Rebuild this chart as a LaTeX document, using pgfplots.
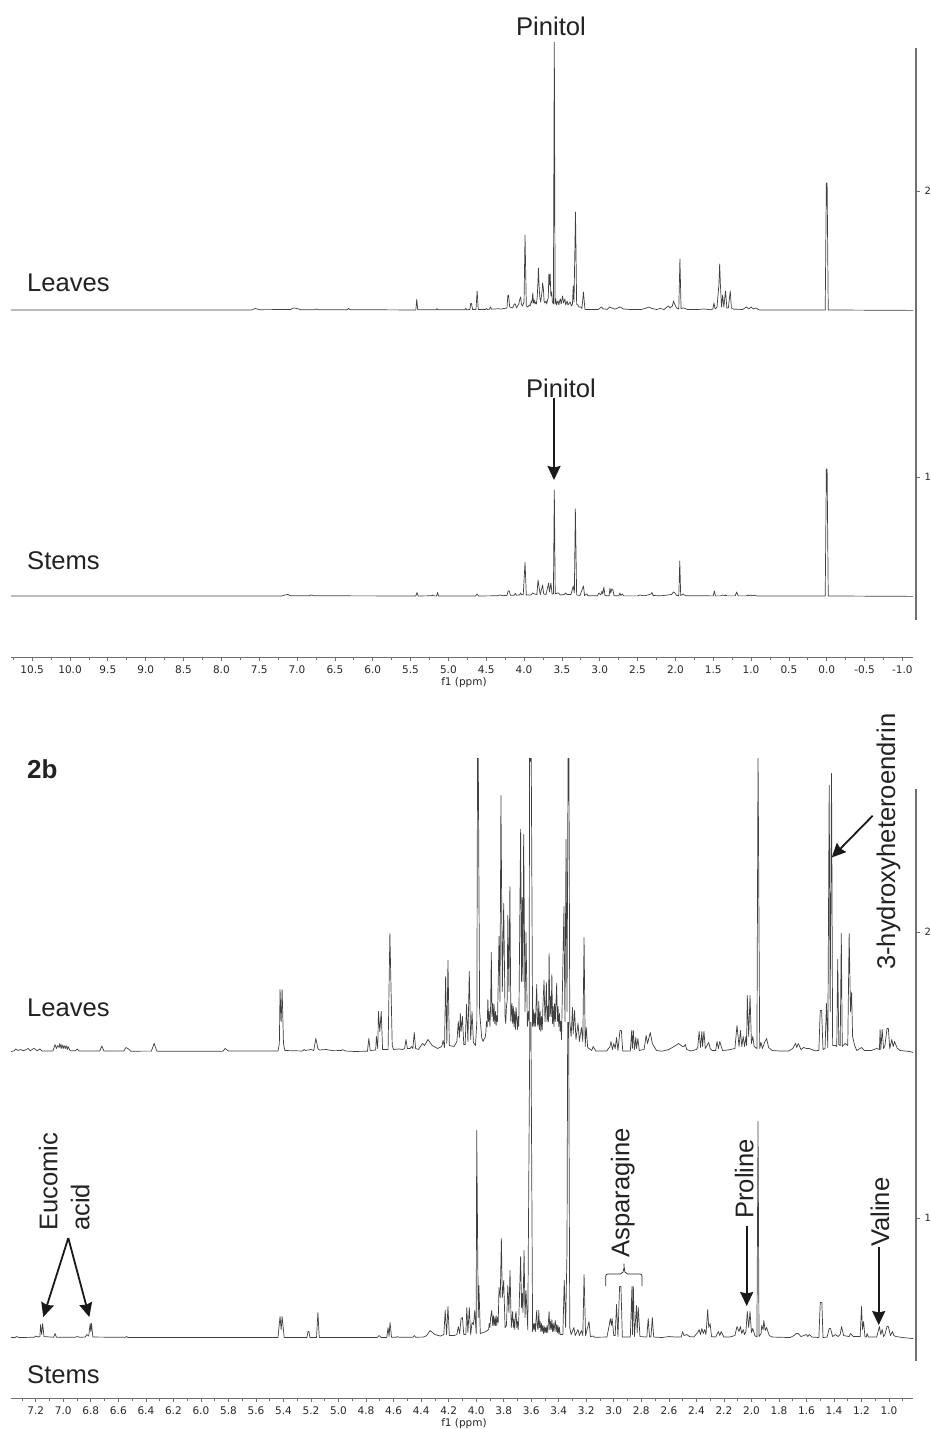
\documentclass[border=0pt]{standalone}
\usepackage{fontspec}
\setmainfont{Liberation Sans}
\newfontfamily\dejavu{DejaVu Sans}
\usepackage{pgfplots}
\pgfplotsset{compat=1.18}
\usetikzlibrary{arrows.meta}
\definecolor{trace}{HTML}{404040}
\definecolor{axisgr}{HTML}{707070}
\definecolor{ink}{HTML}{222222}
\pgfplotsset{
  spec/.style={
    scale only axis, anchor=south west, clip=true,
    x dir=reverse, axis y line=none, axis x line*=bottom,
    x axis line style={-,draw=axisgr,line width=0.8pt},
    tick align=outside, major tick length=4pt, minor tick length=3pt,
    every tick/.style={draw=axisgr,line width=0.7pt},
    every minor tick/.style={draw=axisgr,line width=0.7pt},
    /pgf/number format/assume math mode=true,
    /pgf/number format/fixed, /pgf/number format/fixed zerofill, /pgf/number format/precision=1,
    xticklabel style={font=\dejavu\fontsize{10.5}{12}\selectfont,text=black!85,yshift=-1pt},
    xlabel={f1 (ppm)},
    xlabel style={at={(axis description cs:0.5,0)},anchor=center,yshift=-26pt,xshift=2pt,font=\dejavu\fontsize{10.5}{12}\selectfont,text=black!85},
  },
  trc/.style={color=trace,line width=0.7pt,line join=round,no markers},
  rightax/.style={
    scale only axis, anchor=south west, width=10pt, height=572pt,
    ymin=0.5, ymax=2.5, xmin=0, xmax=1,
    axis x line=none, axis y line*=right,
    y axis line style={-,draw=axisgr,line width=1.2pt},
    ytick={1,2}, tick align=outside, major tick length=4pt,
    every tick/.style={draw=axisgr,line width=0.7pt},
    /pgf/number format/assume math mode=true,
    yticklabel style={font=\dejavu\fontsize{10}{12}\selectfont,text=black!85,xshift=1pt},
  },
}
\tikzset{
  lab/.style={font=\fontsize{25.6}{28}\selectfont,text=ink,inner sep=0pt},
  arr/.style={-{Stealth[length=14pt,width=13pt,inset=1.5pt]},line width=1.8pt,draw=black!90},
}
\begin{document}
\begin{tikzpicture}[x=1pt,y=1pt]
\useasboundingbox (0,0) rectangle (930,-1429);

% ------------ upper panel
\begin{axis}[spec, at={(11pt,-657pt)}, width=902pt, height=615pt,
  xmin=-1.14, xmax=10.78, ymin=0.3706, ymax=2.521,
  xtick={-1,-0.5,0,0.5,1,1.5,2,2.5,3,3.5,4,4.5,5,5.5,6,6.5,7,7.5,8,8.5,9,9.5,10,10.5},
  minor xtick={-0.75,-0.25,0.25,0.75,1.25,1.75,2.25,2.75,3.25,3.75,4.25,4.75,5.25,5.75,6.25,6.75,7.25,7.75,8.25,8.75,9.25,9.75,10.25,10.75}]
% stems
\addplot[trc, y filter/.expression={y/286+0.584}] coordinates {
(10.78,0)(7.2,0)(7.16,1)(7.12,1.5)(7.09,0.2)(6.84,0.2)(6.81,1)(6.78,0.2)(5.43,0)(5.415,3.5)(5.40,0)(5.22,0.2)(5.21,1)(5.20,0.2)(5.155,0)(5.142,3.5)(5.13,0)
(4.64,0)(4.62,2)(4.60,0)(4.35,0.2)(4.32,1)(4.28,0.3)(4.225,0.6)(4.21,5)(4.195,5)(4.18,0.6)(4.13,0.8)(4.115,2.5)(4.10,0.8)(4.06,1)(4.045,3)(4.03,1)(4.01,1.5)(3.987,33.7)(3.97,1)
(3.91,1)(3.885,3)(3.865,2)(3.83,1.5)(3.815,16)(3.80,8)(3.785,1.5)(3.755,11)(3.74,2)(3.71,1.5)(3.675,13)(3.665,4)(3.645,13)(3.63,2)(3.612,2)(3.60,106)(3.588,2)(3.56,3)(3.545,3)(3.52,1)(3.47,1.5)(3.45,3)(3.43,1.5)(3.38,1.5)(3.35,10)(3.335,3)(3.322,87)(3.305,1)(3.26,0.5)(3.215,10)(3.20,0.5)(3.17,2)(3.155,0.2)
(3.03,0.2)(3.01,3)(2.985,1)(2.97,5)(2.96,2)(2.945,8.7)(2.93,0.2)(2.875,0.2)(2.865,8)(2.855,3)(2.84,7)(2.825,6)(2.81,0.2)(2.745,0.2)(2.735,3)(2.72,0.5)(2.70,2)(2.685,0.1)(2.5,0.1)(2.47,1)(2.42,0.2)(2.36,1)(2.32,2)(2.31,3.5)(2.295,0.5)(2.2,0.1)(2.1,1)(2.05,1.5)(2.025,4)(2.005,3)(1.985,0.5)(1.955,0.4)(1.942,35)(1.93,0.5)(1.895,2)(1.87,0.3)(1.5,0.1)(1.485,5)(1.47,0.1)(1.40,0.1)(1.37,1)(1.34,0.2)(1.335,1.2)(1.32,0.1)(1.21,0.1)(1.19,4)(1.17,0.1)(1.06,0.1)(1.05,1)(1.03,0.2)(1.01,1)(0.99,0.2)(0.96,0.8)(0.92,0)
(0.02,0)(0.005,127)(-0.005,127)(-0.02,0)(-1.14,-0.4)
};
% leaves
\addplot[trc, y filter/.expression={y/286+1.584}] coordinates {
(10.78,0)(7.6,0)(7.55,1.5)(7.5,0.3)(7.08,0.5)(7.05,2)(7.0,1.5)(6.95,0.3)(6.76,0.3)(6.74,1)(6.72,0.3)(6.34,0.3)(6.32,1.5)(6.30,0.3)
(5.43,0)(5.418,10.7)(5.405,0.2)(5.16,0.2)(5.15,1.5)(5.14,0.2)(4.78,0.2)(4.77,1.5)(4.755,0.2)(4.715,0.5)(4.705,6.7)(4.695,6.5)(4.68,0.5)(4.635,0.5)(4.62,19)(4.605,0.5)(4.51,0.5)(4.50,1.5)(4.48,0.5)(4.455,0.8)(4.445,3)(4.43,0.8)(4.35,1.2)(4.3,1)(4.225,2)(4.215,14)(4.205,15)(4.19,3)(4.15,2)(4.13,6)(4.115,6)(4.10,2)(4.07,6)(4.055,11)(4.045,13)(4.035,6)(4.02,4)(4.0,8)(3.987,75)(3.97,4)
(3.95,3)(3.93,5)(3.92,4)(3.905,9)(3.895,7)(3.885,17)(3.875,7)(3.865,10)(3.855,6)(3.845,8)(3.835,6)(3.825,14)(3.815,30)(3.81,42)(3.80,22)(3.79,12)(3.78,8)(3.77,14)(3.76,20)(3.755,27)(3.745,22)(3.735,9)(3.725,7)(3.71,9)(3.70,6)(3.69,10)(3.68,12)(3.672,36)(3.665,25)(3.655,36)(3.645,14)(3.635,18)(3.625,8)(3.612,6)(3.60,272)(3.59,6)(3.58,11)(3.57,5)(3.56,8)(3.55,9)(3.54,5)(3.53,9)(3.52,11)(3.51,6)(3.50,10)(3.49,14)(3.48,7)(3.47,9)(3.46,11)(3.45,5)(3.44,7)(3.43,9)(3.42,5)(3.40,7)(3.39,8)(3.375,4)(3.36,6)(3.35,24)(3.34,8)(3.32,98)(3.305,6)(3.29,5)(3.275,3)(3.25,3)(3.235,1.5)(3.215,18)(3.195,0.5)
(3.02,0.5)(2.995,2)(2.975,3)(2.955,1)(2.93,1)(2.90,0.5)(2.87,3)(2.84,2)(2.80,0.8)(2.76,2)(2.73,3)(2.69,1)(2.6,0.5)(2.45,0.5)(2.38,2)(2.35,3)(2.31,1.5)(2.25,0.5)(2.2,1.5)(2.15,0.5)(2.11,3)(2.09,4)(2.07,2)(2.04,4)(2.025,9)(2.01,6)(1.985,2)(1.955,1)(1.94,51)(1.925,1.5)(1.89,2)(1.84,0.5)(1.7,0.5)(1.62,1)(1.53,0.2)(1.505,1)(1.49,7)(1.475,1)(1.45,3)(1.425,25)(1.415,46)(1.405,25)(1.39,3)(1.375,15)(1.36,3)(1.337,19)(1.32,2)(1.30,2)(1.275,19)(1.26,2)(1.23,0.8)(1.11,0.5)(1.06,3)(1.03,1)(1.0,3)(0.97,1)(0.94,2)(0.89,0)
(0.02,0)(0.005,127)(-0.005,127)(-0.02,0)(-1.14,-0.4)
};
\end{axis}
\begin{axis}[rightax, at={(906pt,-620pt)}]
\end{axis}

% ------------ lower panel
\begin{axis}[spec, at={(11pt,-1398pt)}, width=902pt, height=640pt,
  xmin=0.826, xmax=7.38, ymin=0.3706, ymax=2.608,
  xtick={1,1.2,1.4,1.6,1.8,2,2.2,2.4,2.6,2.8,3,3.2,3.4,3.6,3.8,4,4.2,4.4,4.6,4.8,5,5.2,5.4,5.6,5.8,6,6.2,6.4,6.6,6.8,7,7.2},
  minor xtick={0.9,1.1,1.3,1.5,1.7,1.9,2.1,2.3,2.5,2.7,2.9,3.1,3.3,3.5,3.7,3.9,4.1,4.3,4.5,4.7,4.9,5.1,5.3,5.5,5.7,5.9,6.1,6.3,6.5,6.7,6.9,7.1,7.3}]
% stems
\addplot[trc, y filter/.expression={y/286+0.582}] coordinates {
(7.38,0)(7.35,0)(7.34,1)(7.32,0)(7.21,0.3)(7.2,1.5)(7.18,0.5)(7.17,1)(7.165,13)(7.157,3)(7.15,14)(7.14,1)(7.07,0.3)(7.06,4)(7.05,0.3)(6.91,0.3)(6.9,1)(6.88,0.3)(6.84,0.5)(6.83,3)(6.815,1.5)(6.805,14)(6.8,6)(6.795,14)(6.785,0.5)(6.55,0.2)(6.54,1)(6.53,0.1)(5.44,0)(5.425,21)(5.417,8)(5.41,21)(5.395,0)(5.23,0)(5.222,6)(5.215,6)(5.208,0)(5.16,0)(5.15,25)(5.14,0)(4.72,0)(4.705,2)(4.69,0)(4.65,0)(4.64,10)(4.633,1)(4.626,15)(4.615,0.3)(4.58,0.2)(4.575,1)(4.56,0.3)(4.46,0.3)(4.45,2)(4.44,0.3)(4.38,0.5)(4.36,2)(4.335,7)(4.30,3)(4.26,1.5)(4.235,3)(4.225,27)(4.215,3)(4.205,31)(4.195,2)(4.16,2)(4.14,3)(4.13,11)(4.12,4)(4.11,19)(4.10,20)(4.09,3)(4.075,3)(4.068,30)(4.06,5)(4.05,30)(4.04,3)(4.03,15)(4.02,13)(4.01,27)(4.0,4)(3.996,207)(3.985,20)(3.98,52)(3.97,4)(3.95,5)(3.93,6)(3.91,8)(3.905,14)(3.90,10)(3.895,20)(3.887,27)(3.88,12)(3.875,22)(3.87,12)(3.865,20)(3.86,12)(3.855,22)(3.85,12)(3.845,20)(3.84,15)(3.834,50)(3.825,40)(3.817,99)(3.81,40)(3.80,57)(3.79,10)(3.78,12)(3.77,52)(3.762,25)(3.754,67)(3.745,10)(3.74,18)(3.735,26)(3.73,10)(3.725,18)(3.72,8)(3.715,22)(3.71,26)(3.705,10)(3.70,16)(3.695,8)(3.69,20)(3.677,81)(3.67,30)(3.665,44)(3.66,25)(3.652,87)(3.645,20)(3.638,47)(3.625,8)(3.61,315)(3.606,315)(3.602,315)(3.59,6)(3.585,14)(3.58,8)(3.575,14)(3.57,6)(3.565,18)(3.56,27)(3.555,10)(3.55,8)(3.545,27)(3.54,10)(3.535,16)(3.53,6)(3.525,14)(3.52,6)(3.515,12)(3.51,4)(3.505,11)(3.50,5)(3.495,10)(3.49,5)(3.485,12)(3.48,5)(3.475,16)(3.47,26)(3.465,8)(3.46,16)(3.455,8)(3.45,18)(3.445,6)(3.44,14)(3.435,6)(3.43,12)(3.425,17)(3.42,6)(3.415,13)(3.41,5)(3.405,12)(3.40,4)(3.395,10)(3.39,3)(3.37,3)(3.36,57)(3.35,10)(3.34,87)(3.335,315)(3.328,315)(3.32,10)(3.31,3)(3.29,10)(3.28,2)(3.26,8)(3.25,2)(3.235,7)(3.225,2)(3.216,63)(3.205,2)(3.18,16)(3.17,1)(3.15,1.5)(3.14,0.3)(3.05,0.5)(3.035,11)(3.025,19)(3.018,12)(3.012,19)(3.0,2)(2.99,2)(2.98,33)(2.97,1)(2.958,51)(2.948,51)(2.938,0.5)(2.88,0.5)(2.868,51)(2.864,3)(2.858,51)(2.85,1)(2.835,32)(2.83,5)(2.822,30)(2.81,1)(2.76,0.5)(2.75,19)(2.74,0.5)(2.73,0.5)(2.72,20)(2.71,0.5)(2.65,0)(2.6,1)(2.55,0.5)(2.51,0.5)(2.5,6)(2.49,2)(2.47,3)(2.45,1)(2.42,0.5)(2.39,5)(2.38,8)(2.37,3)(2.36,9)(2.35,4)(2.34,8)(2.33,3)(2.318,28)(2.31,10)(2.30,14)(2.29,1)(2.26,0.5)(2.24,6)(2.23,2)(2.22,6)(2.2,0.5)(2.16,0.5)(2.12,2)(2.105,11)(2.09,6)(2.08,11)(2.07,4)(2.06,8)(2.05,3)(2.04,6)(2.03,26)(2.02,10)(2.01,26)(2.0,5)(1.99,9)(1.975,2)(1.96,0.5)(1.952,216)(1.945,1)(1.93,4)(1.925,12)(1.915,8)(1.91,17)(1.90,7)(1.89,10)(1.87,2)(1.85,0.5)(1.72,0)(1.69,2)(1.675,4)(1.66,4)(1.64,1)(1.6,3)(1.59,1)(1.58,3)(1.56,0.5)(1.51,0)(1.50,35)(1.488,35)(1.48,0)(1.45,0.5)(1.435,9)(1.425,9)(1.41,1)(1.39,3)(1.37,1)(1.355,3)(1.345,11)(1.33,2)(1.29,1)(1.28,4)(1.26,1)(1.21,1)(1.2,31)(1.193,8)(1.185,16)(1.175,0.5)(1.165,0.5)(1.16,4)(1.15,0.5)(1.09,0.5)(1.07,11)(1.06,3)(1.05,8)(1.04,1)(1.03,3)(1.015,11)(1.005,11)(0.99,2)(0.975,6)(0.965,2)(0.95,1)(0.9,0)(0.826,-1)
};
% leaves
\addplot[trc, y filter/.expression={y/286+1.582}] coordinates {
(7.38,0)(7.36,0.5)(7.345,2.5)(7.33,1)(7.31,2)(7.29,0.7)(7.255,3)(7.24,0.7)(7.215,3)(7.205,2.5)(7.19,0.7)(7.17,2.5)(7.155,0.5)(7.075,0.5)(7.06,7)(7.05,3)(7.04,6)(7.03,4)(7.025,8)(7.015,3)(7.01,7)(7.0,3)(6.995,6)(6.985,3)(6.98,6)(6.97,2)(6.965,5)(6.95,0.8)(6.91,0.8)(6.90,2.5)(6.885,0.5)(6.735,0.5)(6.72,5.5)(6.705,0.5)(6.56,0.5)(6.545,4)(6.525,2.5)(6.51,0.3)(6.36,0.4)(6.34,8)(6.32,0.3)(5.84,0.2)(5.825,3)(5.80,0.5)(5.44,0.5)(5.43,8)(5.425,62)(5.417,30)(5.41,62)(5.40,8)(5.39,1)(5.26,0.5)(5.25,2)(5.24,1)(5.2,2)(5.18,1)(5.165,13)(5.15,3)(5.14,1.5)(5.09,2)(5.04,0.8)(4.98,1)(4.97,1.8)(4.95,0.5)(4.88,0)(4.79,0.3)(4.78,13)(4.77,1)(4.73,1.5)(4.725,15)(4.715,3)(4.71,40)(4.70,20)(4.69,40)(4.68,2)(4.64,2)(4.627,118)(4.61,6)(4.6,2)(4.56,2.5)(4.535,2)(4.52,3)(4.51,12)(4.50,3)(4.48,3)(4.47,5)(4.46,3)(4.45,19)(4.44,3)(4.42,2)(4.39,8)(4.375,6)(4.35,12)(4.32,6)(4.28,3)(4.25,5)(4.24,11)(4.23,4)(4.222,75)(4.213,8)(4.205,91)(4.195,6)(4.16,5)(4.14,10)(4.13,30)(4.122,14)(4.115,38)(4.11,20)(4.10,35)(4.09,7)(4.08,7)(4.07,47)(4.06,10)(4.05,80)(4.04,12)(4.03,40)(4.02,9)(4.005,6)(3.995,30)(3.99,300)(3.985,300)(3.975,40)(3.96,14)(3.95,10)(3.945,12)(3.935,14)(3.93,18)(3.925,30)(3.92,25)(3.915,52)(3.91,30)(3.905,40)(3.90,25)(3.895,45)(3.89,99)(3.885,35)(3.88,48)(3.875,30)(3.87,47)(3.865,28)(3.86,40)(3.855,26)(3.85,36)(3.845,30)(3.834,115)(3.827,50)(3.82,256)(3.81,60)(3.80,148)(3.79,35)(3.785,28)(3.78,45)(3.775,50)(3.77,136)(3.762,60)(3.755,165)(3.748,30)(3.74,48)(3.735,28)(3.73,45)(3.725,25)(3.72,40)(3.715,22)(3.71,44)(3.70,22)(3.695,35)(3.69,25)(3.677,222)(3.67,70)(3.665,154)(3.66,70)(3.655,217)(3.645,40)(3.638,119)(3.628,25)(3.62,40)(3.615,30)(3.612,300)(3.606,290)(3.60,300)(3.59,25)(3.585,42)(3.58,25)(3.575,38)(3.57,25)(3.565,45)(3.56,67)(3.555,28)(3.55,25)(3.545,50)(3.54,22)(3.535,40)(3.53,20)(3.525,35)(3.52,22)(3.515,45)(3.507,71)(3.50,30)(3.495,45)(3.49,69)(3.485,30)(3.48,45)(3.475,30)(3.47,98)(3.465,35)(3.46,55)(3.455,35)(3.45,77)(3.445,28)(3.44,45)(3.435,25)(3.43,48)(3.425,30)(3.415,68)(3.41,30)(3.405,45)(3.40,25)(3.395,38)(3.39,20)(3.385,30)(3.38,12)(3.362,145)(3.355,30)(3.347,212)(3.34,40)(3.332,300)(3.326,300)(3.32,30)(3.31,15)(3.30,44)(3.295,18)(3.285,41)(3.275,12)(3.26,28)(3.25,10)(3.235,24)(3.225,10)(3.216,114)(3.208,5)(3.20,24)(3.19,4)(3.16,1)(3.15,5)(3.13,0.5)(3.05,0.5)(3.04,3)(3.03,4)(3.02,10)(3.01,2)(3.0,8)(2.99,3)(2.98,14)(2.97,1)(2.955,21)(2.945,21)(2.935,0.5)(2.88,0.5)(2.87,21)(2.865,3)(2.858,21)(2.85,2)(2.84,14)(2.835,3)(2.825,13)(2.815,1)(2.78,2)(2.765,16)(2.755,8)(2.735,19)(2.72,8)(2.69,1)(2.65,0.3)(2.6,2)(2.55,6)(2.53,8)(2.5,5)(2.49,5)(2.48,7)(2.47,2)(2.44,0.5)(2.4,2)(2.39,4)(2.38,20)(2.37,4)(2.36,20)(2.355,5)(2.345,20)(2.335,3)(2.31,9)(2.3,3)(2.285,1)(2.26,1)(2.25,10)(2.24,3)(2.23,10)(2.21,1)(2.17,1.5)(2.12,3)(2.105,26)(2.09,5)(2.08,21)(2.07,5)(2.06,15)(2.05,5)(2.04,15)(2.035,6)(2.03,56)(2.02,15)(2.01,56)(2.0,8)(1.99,15)(1.98,5)(1.96,3)(1.952,300)(1.94,3)(1.93,9)(1.92,3)(1.905,9)(1.89,13)(1.875,4)(1.85,1)(1.8,0.5)(1.73,0.5)(1.70,3)(1.68,8)(1.67,4)(1.66,8)(1.64,2)(1.62,4)(1.60,3)(1.58,3)(1.54,0.8)(1.51,1)(1.50,41)(1.49,41)(1.48,2)(1.465,3)(1.455,48)(1.445,4)(1.435,266)(1.428,40)(1.418,278)(1.41,6)(1.39,6)(1.38,5)(1.373,92)(1.365,7)(1.355,6)(1.347,118)(1.34,5)(1.32,8)(1.30,6)(1.29,118)(1.28,40)(1.272,59)(1.265,15)(1.25,6)(1.235,1)(1.2,4)(1.18,1)(1.13,1)(1.09,3)(1.07,2)(1.065,22)(1.06,2)(1.05,22)(1.04,3)(1.03,6)(1.015,23)(1.005,23)(0.995,3)(0.98,12)(0.97,5)(0.96,10)(0.94,3)(0.92,1)(0.85,0)(0.826,-1)
};
\end{axis}
\begin{axis}[rightax, at={(906pt,-1361pt)}]
\end{axis}

% ------------ labels
\node[lab,anchor=base] at (551,-36) {Pinitol};
\node[lab,anchor=base] at (561,-397) {Pinitol};
\node[lab,anchor=base west] at (27,-291) {Leaves};
\node[lab,anchor=base west] at (27,-569) {Stems};
\node[lab,anchor=base west,font=\fontsize{26}{28}\selectfont\bfseries] at (27,-778) {2b};
\node[lab,anchor=base west] at (27,-1016.5) {Leaves};
\node[lab,anchor=base west] at (27,-1383) {Stems};
\node[lab,anchor=base west,rotate=90] at (57.3,-1231) {Eucomic};
\node[lab,anchor=base west,rotate=90] at (89.3,-1231) {acid};
\node[lab,anchor=base west,rotate=90] at (629.3,-1258) {Asparagine};
\node[lab,anchor=base west,rotate=90] at (753.3,-1219) {Proline};
\node[lab,anchor=base west,rotate=90] at (889,-1247) {Valine};
\node[lab,anchor=base west,rotate=90] at (895,-970) {3-hydroxyheteroendrin};

% ------------ arrows and brace
\draw[arr] (554,-398) -- (554,-480);
\draw[arr] (872.7,-815.7) -- (831.7,-857.5);
\draw[arr] (68.3,-1238) -- (43.3,-1317);
\draw[arr] (68.3,-1238) -- (89.3,-1317);
\draw[arr] (746.7,-1226) -- (746.7,-1306);
\draw[arr] (878.7,-1247) -- (878.7,-1325);
\draw[line width=0.7pt,draw=black!85,rounded corners=2pt]
  (605.7,-1286) -- (605.7,-1274) -- (622.5,-1274) -- (624,-1268) ;
\draw[line width=0.7pt,draw=black!85,rounded corners=2pt]
  (642,-1286) -- (642,-1274) -- (625.5,-1274) -- (624,-1268) -- (624,-1263.5);
\end{tikzpicture}
\end{document}
